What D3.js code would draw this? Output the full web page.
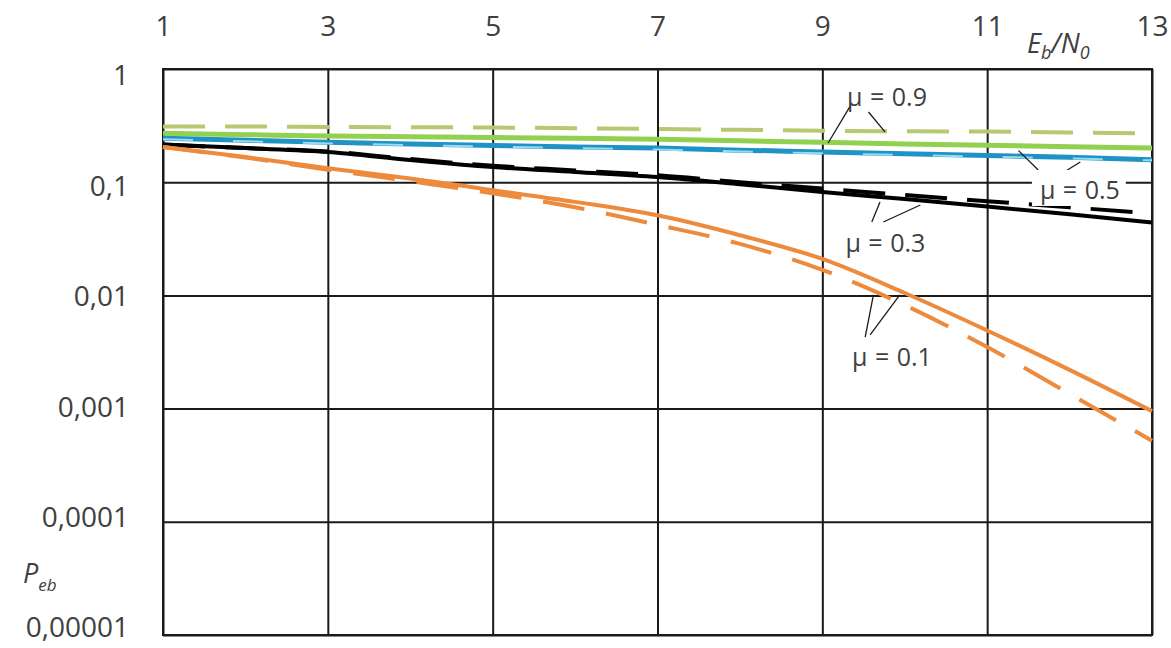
<!DOCTYPE html>
<html>
<head>
<meta charset="utf-8">
<script src="https://cdn.jsdelivr.net/npm/d3@7"></script>
<style>
  body { margin: 0; background: #fff; }
  text { font-family: "Open Sans", sans-serif; fill: #404040; }
</style>
</head>
<body>
<div id="chart"></div>
<script>
// Data
const ebn0 = [1, 2, 3, 4, 5, 6, 7, 8, 9, 10, 11, 12, 13];

const mu01Solid  = [0.205, 0.167, 0.133, 0.108, 0.085, 0.067, 0.051, 0.034, 0.021, 0.0105, 0.0049, 0.0022, 0.00095];
const mu01Dashed = [0.205, 0.165, 0.129, 0.102, 0.08, 0.06, 0.042, 0.0285, 0.0168, 0.0082, 0.0035, 0.00135, 0.00052];
const mu03Solid  = [0.215, 0.2, 0.185, 0.157, 0.136, 0.123, 0.111, 0.096, 0.082, 0.071, 0.061, 0.052, 0.044];
const mu03Dashed = [0.215, 0.2, 0.187, 0.16, 0.14, 0.127, 0.115, 0.1, 0.088, 0.077, 0.068, 0.06, 0.053];
const mu05Solid  = [0.245, 0.235, 0.225, 0.218, 0.211, 0.205, 0.2, 0.192, 0.185, 0.178, 0.172, 0.166, 0.158];
const mu05Dashed = [0.24, 0.23, 0.22, 0.213, 0.206, 0.2, 0.194, 0.187, 0.18, 0.174, 0.168, 0.162, 0.156];
const mu09Solid  = [0.27, 0.263, 0.256, 0.252, 0.248, 0.244, 0.24, 0.232, 0.225, 0.218, 0.212, 0.206, 0.2];
const mu09Dashed = [0.31, 0.31, 0.308, 0.306, 0.304, 0.3, 0.295, 0.29, 0.285, 0.282, 0.28, 0.275, 0.27];

const xTicks = [1, 3, 5, 7, 9, 11, 13];
const yTicks = [1, 0.1, 0.01, 0.001, 0.0001, 0.00001];
const yTickLabels = ['1', '0,1', '0,01', '0,001', '0,0001', '0,00001'];

// annotations in data units: label anchor + pointer segments
const labelText = ['μ = 0.9', 'μ = 0.5', 'μ = 0.3', 'μ = 0.1'];
const labelAt = [[9.30, 0.471], [11.64, 0.0711], [9.28, 0.0242], [9.36, 0.00238]];
const pointers = [
  [[[9.36, 0.50], [9.07, 0.222]], [[9.56, 0.417], [9.76, 0.278]]],
  [[[11.38, 0.19], [11.62, 0.128]], [[12.13, 0.151], [11.91, 0.12]]],
  [[[9.70, 0.0668], [9.60, 0.0445]], [[10.19, 0.0629], [9.74, 0.0445]]],
  [[[9.62, 0.0101], [9.52, 0.00429]], [[9.94, 0.0101], [9.58, 0.00447]]]
];

const series = [
  { values: mu09Dashed, color: '#b8c870', dash: '42,20', width: 4 },
  { values: mu09Solid, color: '#92d050', dash: null, width: 5 },
  { values: mu05Solid, color: '#1f93c6', dash: null, width: 5 },
  { values: mu05Dashed, color: '#9ad9ee', dash: '30,40', width: 2 },
  { values: mu03Solid, color: '#000000', dash: null, width: 4 },
  { values: mu03Dashed, color: '#000000', dash: '42,20', width: 4 },
  { values: mu01Solid, color: '#ed8a3c', dash: null, width: 4 },
  { values: mu01Dashed, color: '#ed8a3c', dash: '42,22', width: 4 }
];

// Dimensions
let dimensions = {
  width: 1171,
  height: 648,
  left: 163,
  top: 69,
  right: 19,
  bottom: 13
};
dimensions.ctrWidth = dimensions.width - dimensions.left - dimensions.right;
dimensions.ctrHeight = dimensions.height - dimensions.top - dimensions.bottom;

const svg = d3.select('#chart')
  .append('svg')
  .attr('width', dimensions.width)
  .attr('height', dimensions.height);

const ctr = svg.append('g')
  .attr('transform', `translate(${dimensions.left}, ${dimensions.top})`);

// Scales
const xScale = d3.scaleLinear()
  .domain([1, 13])
  .range([0, dimensions.ctrWidth]);

const yScale = d3.scaleLog()
  .domain([0.00001, 1])
  .range([dimensions.ctrHeight, 0]);

// grid + axes
const xAxis = d3.axisTop(xScale)
  .tickValues(xTicks)
  .tickSize(-dimensions.ctrHeight)
  .tickPadding(33)
  .tickFormat(d3.format('d'));

const xAxisGroup = ctr.append('g').call(xAxis);
xAxisGroup.select('.domain').remove();
xAxisGroup.selectAll('line').attr('stroke', '#1a1a1a').attr('stroke-width', 2);
xAxisGroup.selectAll('text')
  .attr('font-size', 28)
  .attr('fill', '#404040');

const yAxis = d3.axisLeft(yScale)
  .tickValues(yTicks)
  .tickSize(-dimensions.ctrWidth)
  .tickPadding(34)
  .tickFormat((d, i) => yTickLabels[i]);

const yAxisGroup = ctr.append('g').call(yAxis);
yAxisGroup.select('.domain').remove();
yAxisGroup.selectAll('line').attr('stroke', '#1a1a1a').attr('stroke-width', 2);
yAxisGroup.selectAll('text')
  .attr('font-size', 28)
  .attr('fill', '#404040')
  .attr('transform', (d, i) => `translate(0, ${7 - 2.8 * i})`);

ctr.append('rect')
  .attr('width', dimensions.ctrWidth)
  .attr('height', dimensions.ctrHeight)
  .attr('fill', 'none')
  .attr('stroke', '#1a1a1a')
  .attr('stroke-width', 2);

// axis titles
const xTitle = svg.append('text')
  .attr('x', 1027)
  .attr('y', 53)
  .attr('font-size', 27)
  .style('font-style', 'italic');
xTitle.append('tspan').text('E');
xTitle.append('tspan').attr('font-size', 18).attr('dy', 6).text('b');
xTitle.append('tspan').attr('dy', -6).text('/N');
xTitle.append('tspan').attr('font-size', 18).attr('dy', 6).text('0');

const yTitle = svg.append('text')
  .attr('x', 23)
  .attr('y', 583)
  .attr('font-size', 27)
  .style('font-style', 'italic');
yTitle.append('tspan').text('P');
yTitle.append('tspan').attr('font-size', 17).attr('dy', 8).text('eb');

// lines
const lineGenerator = d3.line()
  .x((d, i) => xScale(ebn0[i]))
  .y(d => yScale(d))
  .curve(d3.curveMonotoneX);

ctr.selectAll('.curve')
  .data(series)
  .join('path')
  .attr('class', 'curve')
  .attr('d', d => lineGenerator(d.values))
  .attr('fill', 'none')
  .attr('stroke', d => d.color)
  .attr('stroke-width', d => d.width)
  .attr('stroke-dasharray', d => d.dash);

// annotations
pointers.forEach(group => {
  group.forEach(seg => {
    ctr.append('line')
      .attr('x1', xScale(seg[0][0]))
      .attr('y1', yScale(seg[0][1]))
      .attr('x2', xScale(seg[1][0]))
      .attr('y2', yScale(seg[1][1]))
      .attr('stroke', '#1a1a1a')
      .attr('stroke-width', 1.3);
  });
});

labelText.forEach((t, i) => {
  const g = ctr.append('g');
  const txt = g.append('text')
    .attr('x', xScale(labelAt[i][0]))
    .attr('y', yScale(labelAt[i][1]))
    .attr('font-size', 25)
    .attr('word-spacing', 1)
    .text(t);
  if (i === 1) {
    const b = txt.node().getBBox();
    g.insert('rect', 'text')
      .attr('x', b.x - 8)
      .attr('y', b.y - 2)
      .attr('width', b.width + 14)
      .attr('height', b.height + 2)
      .attr('fill', '#fff');
  }
});
</script>
</body>
</html>
